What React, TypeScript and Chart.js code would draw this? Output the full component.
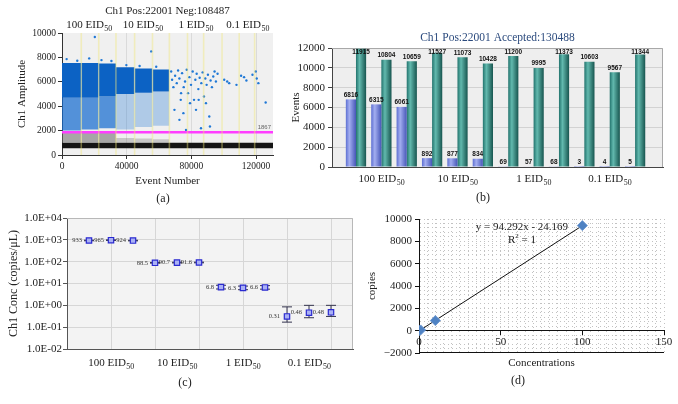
import React, { useEffect, useRef } from 'react';
import { Chart, registerables } from 'chart.js';

Chart.register(...registerables);

const SERIF = "'Liberation Serif', 'DejaVu Serif', serif";
const NARROW = "'Liberation Sans Narrow', 'Liberation Sans', Arial, sans-serif";
const SANS = "'Liberation Sans', Arial, sans-serif";

// ---------------- data ----------------
const doseLabels = ['100', '10', '1', '0.1'];
const doseUnit = 'EID';
const doseSub = '50';

// per-well droplet counts (panel b)
const acceptedPerWell = [11915, 10804, 10659, 11527, 11073, 10428, 11200, 9995, 11373, 10603, 9567, 11344];
const positivePerWell = [6816, 6315, 6061, 892, 877, 834, 69, 57, 68, 3, 4, 5];

// panel a: amplitude clusters per well (wells 1-6)
const eventTicks = [0, 40000, 80000, 120000];
const thresholdAmp = 1867;
const clusterTop = [7550, 7550, 7500, 7200, 7100, 7000];
const clusterCoreLow = [4700, 4700, 4800, 5000, 5100, 5200];
const clusterTailLow = [2000, 2100, 2200, 2100, 2300, 2400];
const rainTop = [1850, 1800, 1800, 1400, 1350, 1300];
const negBandTop = 1000;
const negBandLow = 550;

// panel a: sparse positive droplets (event number, amplitude)
const sparseEvents = [
  67500, 68100, 68900, 69950, 70980, 71800, 72600, 73430, 74260, 75280, 76100, 77130, 77960, 78770, 79790, 80820, 81640,
  82460, 83280, 84310, 85130, 86160, 86980, 87800, 88620, 89440, 90250, 91080, 91900, 92720, 93540, 94360, 95180, 96210,
  69540, 72620, 75080, 76720, 79180, 82870, 85950, 89030, 91490, 73640, 84520,
  100310, 102160, 103400, 107900, 110770, 112600, 114050, 117800, 119800, 120430, 121440, 125950,
  20300, 55180, 2870, 9440, 16820, 24410, 30570, 39800, 48000, 58260,
];
const sparseAmps = [
  6850, 6170, 5560, 6490, 5890, 6930, 6270, 4520, 6710, 5560, 6030, 6990, 5070, 6380, 5750, 6850, 4520,
  6170, 6660, 5400, 6330, 5890, 6770, 4800, 6270, 5750, 6580, 3150, 6110, 5560, 6440, 6850, 6030, 6660,
  3700, 2880, 3430, 2050, 4250, 3700, 2190, 4250, 2330, 5070, 4520,
  6170, 6030, 5890, 5750, 6490, 6380, 6110, 6580, 6850, 6270, 5890, 4300,
  9670, 8490, 7860, 7730, 7920, 7780, 7700, 7370, 7290, 7230,
];

// panel c: concentration per well (copies/uL) with error limits
const concValues = [933, 965, 924, 88.5, 90.7, 91.6, 6.8, 6.3, 6.6, 0.31, 0.46, 0.48];
const concLow = [905, 937, 897, 85.5, 87.6, 88.5, 5.6, 5.2, 5.5, 0.17, 0.27, 0.31];
const concHigh = [962, 994, 952, 91.6, 93.9, 94.8, 8.3, 7.6, 8.0, 0.85, 1.0, 1.0];
const concTicks = [0.01, 0.1, 1, 10, 100, 1000, 10000];

// panel d: standard curve
const stdConcentrations = [0.1, 1, 10, 100];
const stdCopies = [4.2, 65.7, 902.7, 9407];
const fitSlope = 94.292;
const fitIntercept = -24.169;
const fitR2 = 1;

// ---------------- helpers ----------------
function cumulative(arr: number[]) {
  const out: number[] = [];
  let s = 0;
  arr.forEach((v) => { s += v; out.push(s); });
  return out;
}
const wellEnds = cumulative(acceptedPerWell);
const wellStarts = wellEnds.map((e, i) => e - acceptedPerWell[i]);
const totalEvents = wellEnds[wellEnds.length - 1];
const totalPositive = positivePerWell.reduce((a, b) => a + b, 0);

function drawText(ctx: any, text: string, x: number, y: number, font: string, color: string, align = 'center', baseline = 'middle') {
  ctx.save();
  ctx.font = font;
  ctx.fillStyle = color;
  ctx.textAlign = align;
  ctx.textBaseline = baseline;
  ctx.fillText(text, x, y);
  ctx.restore();
}

function drawDose(ctx: any, x: number, y: number, dose: string, size: number, color: string) {
  const main = `${dose} ${doseUnit}`;
  const subSize = size * 0.72;
  ctx.save();
  ctx.fillStyle = color;
  ctx.textAlign = 'left';
  ctx.textBaseline = 'alphabetic';
  ctx.font = `${size}px ${SERIF}`;
  const w1 = ctx.measureText(main).width;
  ctx.font = `${subSize}px ${SERIF}`;
  const w2 = ctx.measureText(doseSub).width;
  const x0 = x - (w1 + w2) / 2;
  const base = y + size * 0.33;
  ctx.font = `${size}px ${SERIF}`;
  ctx.fillText(main, x0, base);
  ctx.font = `${subSize}px ${SERIF}`;
  ctx.fillText(doseSub, x0 + w1 + 0.5, base + size * 0.3);
  ctx.restore();
}

function fillArea(chart: any, color: string) {
  const { ctx, chartArea: a } = chart;
  ctx.save();
  ctx.fillStyle = color;
  ctx.fillRect(a.left, a.top, a.right - a.left, a.bottom - a.top);
  ctx.restore();
}

function strokeTopRight(chart: any, color: string) {
  const { ctx, chartArea: a } = chart;
  ctx.save();
  ctx.strokeStyle = color;
  ctx.lineWidth = 1;
  ctx.beginPath();
  ctx.moveTo(a.left, a.top + 0.5);
  ctx.lineTo(a.right - 0.5, a.top + 0.5);
  ctx.lineTo(a.right - 0.5, a.bottom);
  ctx.stroke();
  ctx.restore();
}

function baseOptions(padding: any) {
  return {
    animation: false,
    responsive: true,
    maintainAspectRatio: false,
    events: [],
    layout: { padding },
    plugins: { legend: { display: false }, tooltip: { enabled: false }, title: { display: false } },
  };
}

const groupCenter = (g: number) => g * 3 + 2;

// ---------------- panel A ----------------
function makeA(): any {
  const band = (x0: number, x1: number, lo: number, hi: number, color: string) => ({
    type: 'line',
    data: [{ x: x0, y: hi }, { x: x1, y: hi }],
    fill: { value: lo },
    backgroundColor: color,
    borderColor: 'rgba(0,0,0,0)',
    borderWidth: 0,
    pointRadius: 0,
    order: 20,
  });
  const datasets: any[] = [
    {
      type: 'line',
      data: [{ x: 0, y: thresholdAmp }, { x: totalEvents, y: thresholdAmp }],
      borderColor: '#ff3dff',
      borderWidth: 2.5,
      pointRadius: 0,
      fill: false,
      order: 1,
    },
    {
      type: 'scatter',
      data: sparseEvents.map((e, i) => ({ x: e, y: sparseAmps[i] })),
      pointRadius: 1.2,
      backgroundColor: '#1f78d6',
      borderWidth: 0,
      order: 2,
    },
  ];
  clusterTop.forEach((top, i) => {
    datasets.push(band(wellStarts[i], wellEnds[i], clusterCoreLow[i], top, '#0c62c4'));
    datasets.push(band(wellStarts[i], wellEnds[i], clusterTailLow[i], clusterCoreLow[i], i < 3 ? 'rgba(22,108,208,0.72)' : 'rgba(25,115,212,0.3)'));
    datasets.push(band(wellStarts[i], wellEnds[i], negBandTop, rainTop[i], i < 3 ? 'rgba(105,105,105,0.55)' : 'rgba(105,105,105,0.3)'));
  });
  datasets.push(band(0, totalEvents, negBandLow, negBandTop, '#151515'));

  const plugin = {
    id: 'panelA',
    beforeDraw(chart: any) { fillArea(chart, '#f0f0f0'); },
    afterDatasetsDraw(chart: any) {
      const { ctx, chartArea: a, scales } = chart;
      ctx.save();
      ctx.strokeStyle = 'rgba(240,232,120,0.42)';
      ctx.lineWidth = 1.6;
      wellEnds.slice(0, -1).forEach((e) => {
        const px = scales.x.getPixelForValue(e);
        ctx.beginPath();
        ctx.moveTo(px, a.top);
        ctx.lineTo(px, a.bottom);
        ctx.stroke();
      });
      ctx.restore();
      drawText(ctx, String(thresholdAmp), a.right - 2, scales.y.getPixelForValue(thresholdAmp) - 1.5, `6px ${SANS}`, '#666', 'right', 'bottom');
    },
    afterDraw(chart: any) {
      const { ctx, chartArea: a, scales } = chart;
      drawText(ctx, `Ch1 Pos:${totalPositive} Neg:${totalEvents - totalPositive}`, (a.left + a.right) / 2, 11, `11px ${SERIF}`, '#222');
      doseLabels.forEach((d, g) => {
        const c = (wellStarts[g * 3] + wellEnds[g * 3 + 2]) / 2;
        drawDose(ctx, scales.x.getPixelForValue(c), 24, d, 11, '#222');
      });
    },
  };

  return {
    type: 'scatter',
    data: { datasets },
    options: {
      ...baseOptions({ left: 0, top: 33, right: 17, bottom: 0 }),
      scales: {
        x: {
          type: 'linear', min: 0, max: totalEvents,
          afterBuildTicks: (s: any) => { s.ticks = eventTicks.map((v) => ({ value: v })); },
          border: { color: '#333' },
          grid: { color: '#dadada', tickColor: '#333', tickLength: 4 },
          ticks: { maxRotation: 0, autoSkip: false, font: { size: 9.5, family: SERIF }, color: '#222', padding: 2, callback: (v: any) => String(v) },
          title: { display: true, text: 'Event Number', font: { size: 11, family: SERIF }, color: '#222', padding: { top: 0, bottom: 4 } },
          afterFit: (s: any) => { s.height = 37; },
        },
        y: {
          type: 'linear', min: 0, max: 10000,
          border: { color: '#333' },
          grid: { drawOnChartArea: false, color: '#333', tickLength: 4 },
          ticks: { stepSize: 1000, font: { size: 9.5, family: SERIF }, color: '#222', padding: 2, callback: (v: any) => String(v) },
          title: { display: true, text: 'Ch1 Amplitude', font: { size: 11, family: SERIF }, color: '#222', padding: { top: 16, bottom: 0 } },
          afterFit: (s: any) => { s.width = 62; },
        },
      },
    },
    plugins: [plugin],
  };
}

// ---------------- panel B ----------------
function barGradient(stops: string[], dsIndex: number) {
  return (c: any) => {
    const chart = c.chart;
    const xs = chart.scales && chart.scales.x;
    if (c.type !== 'data' || !xs || !chart.chartArea) return stops[1];
    const slot = xs.getPixelForValue(2) - xs.getPixelForValue(1);
    const w = (slot * 0.8) / 2;
    const center = xs.getPixelForValue(c.dataIndex + 1);
    const left = center - w + dsIndex * w;
    const g = chart.ctx.createLinearGradient(left, 0, left + w, 0);
    g.addColorStop(0, stops[0]);
    g.addColorStop(0.35, stops[1]);
    g.addColorStop(1, stops[2]);
    return g;
  };
}

function makeB(): any {
  const plugin = {
    id: 'panelB',
    beforeDraw(chart: any) { fillArea(chart, '#eeeeee'); },
    beforeDatasetsDraw(chart: any) { strokeTopRight(chart, '#a8a8a8'); },
    afterDatasetsDraw(chart: any) {
      const { ctx, chartArea: a } = chart;
      ctx.save();
      ctx.font = `bold 6.5px ${NARROW}`;
      ctx.fillStyle = '#111';
      ctx.textAlign = 'center';
      ctx.textBaseline = 'alphabetic';
      chart.data.datasets.forEach((ds: any, di: number) => {
        chart.getDatasetMeta(di).data.forEach((el: any, i: number) => {
          const yy = Math.max(el.y - 2.5, a.top + 6);
          ctx.fillText(String(ds.data[i].y), el.x, yy);
        });
      });
      ctx.restore();
    },
    afterDraw(chart: any) {
      const { ctx, chartArea: a, scales } = chart;
      drawText(ctx, `Ch1 Pos:${totalPositive} Accepted:${totalEvents}`, (a.left + a.right) / 2, 13, `11.5px ${SERIF}`, '#2b4a7d');
      doseLabels.forEach((d, g) => {
        drawDose(ctx, scales.x.getPixelForValue(groupCenter(g)), a.bottom + 11, d, 11, '#222');
      });
    },
  };
  return {
    type: 'bar',
    data: {
      datasets: [
        {
          label: 'Positive',
          data: positivePerWell.map((v, i) => ({ x: i + 1, y: v })),
          backgroundColor: barGradient(['#5d6fd2', '#a3aef0', '#4656b8'], 0),
          categoryPercentage: 0.8,
          barPercentage: 1,
        },
        {
          label: 'Accepted',
          data: acceptedPerWell.map((v, i) => ({ x: i + 1, y: v })),
          backgroundColor: barGradient(['#22736d', '#62b9ae', '#17554f'], 1),
          categoryPercentage: 0.8,
          barPercentage: 1,
        },
      ],
    },
    options: {
      ...baseOptions({ left: 0, top: 23, right: 15, bottom: 0 }),
      scales: {
        x: {
          type: 'linear', min: 0.055, max: 13.1, offset: false,
          ticks: { display: false, stepSize: 1 },
          grid: { display: false },
          border: { color: '#444' },
          afterFit: (s: any) => { s.height = 23; },
        },
        y: {
          min: 0, max: 12000,
          ticks: { stepSize: 2000, font: { size: 11, family: SERIF }, color: '#222', padding: 3, callback: (v: any) => String(v) },
          grid: { color: '#d2d2d2', tickColor: '#444', tickLength: 4 },
          border: { color: '#444' },
          title: { display: true, text: 'Events', font: { size: 11, family: SERIF }, color: '#222', padding: { top: 0, bottom: 0 } },
          afterFit: (s: any) => { s.width = 42; },
        },
      },
    },
    plugins: [plugin],
  };
}

// ---------------- panel C ----------------
function sciLabel(v: number) {
  const e = Math.round(Math.log10(v));
  return `1.0E${e < 0 ? '-' : '+'}${String(Math.abs(e)).padStart(2, '0')}`;
}

function makeC(): any {
  const plugin = {
    id: 'panelC',
    beforeDraw(chart: any) { fillArea(chart, '#f3f3f3'); },
    beforeDatasetsDraw(chart: any) {
      strokeTopRight(chart, '#b8b8b8');
      const { ctx, scales } = chart;
      ctx.save();
      ctx.strokeStyle = '#34344e';
      ctx.lineWidth = 1;
      concValues.forEach((_, i) => {
        const px = scales.x.getPixelForValue(i + 1);
        const yl = scales.y.getPixelForValue(concLow[i]);
        const yh = scales.y.getPixelForValue(concHigh[i]);
        ctx.beginPath();
        ctx.moveTo(px, yl); ctx.lineTo(px, yh);
        ctx.moveTo(px - 5, yl); ctx.lineTo(px + 5, yl);
        ctx.moveTo(px - 5, yh); ctx.lineTo(px + 5, yh);
        ctx.stroke();
      });
      ctx.restore();
    },
    afterDatasetsDraw(chart: any) {
      const { ctx, scales } = chart;
      concValues.forEach((v, i) => {
        drawText(ctx, String(v), scales.x.getPixelForValue(i + 1) - 7, scales.y.getPixelForValue(v), `6.5px ${SERIF}`, '#333', 'right', 'middle');
      });
    },
    afterDraw(chart: any) {
      const { ctx, chartArea: a, scales } = chart;
      doseLabels.forEach((d, g) => {
        drawDose(ctx, scales.x.getPixelForValue(groupCenter(g)), a.bottom + 13, d, 11, '#222');
      });
    },
  };
  return {
    type: 'scatter',
    data: {
      datasets: [
        {
          data: concValues.map((v, i) => ({ x: i + 1, y: v })),
          pointStyle: 'rect',
          pointRadius: 3.8,
          backgroundColor: '#aab1f4',
          borderColor: '#2a2ad0',
          borderWidth: 1.2,
        },
      ],
    },
    options: {
      ...baseOptions({ left: 0, top: 13, right: 7, bottom: 0 }),
      scales: {
        x: {
          type: 'linear', min: 0, max: 13,
          ticks: { display: false, stepSize: 2, includeBounds: false },
          grid: { color: '#d6d6d6', drawTicks: false },
          border: { color: '#555' },
          afterFit: (s: any) => { s.height = 28; },
        },
        y: {
          type: 'logarithmic', min: 0.01, max: 10000,
          afterBuildTicks: (s: any) => { s.ticks = concTicks.map((v) => ({ value: v })); },
          ticks: { font: { size: 11, family: SERIF }, color: '#222', padding: 1, callback: (v: any) => sciLabel(v) },
          grid: { color: '#d6d6d6', tickColor: '#555', tickLength: 4 },
          border: { color: '#555' },
          title: { display: true, text: 'Ch1 Conc (copies/μL)', font: { size: 12, family: SERIF }, color: '#222', padding: { top: 7, bottom: 0 } },
          afterFit: (s: any) => { s.width = 67; },
        },
      },
    },
    plugins: [plugin],
  };
}

// ---------------- panel D ----------------
function makeD(): any {
  const plugin = {
    id: 'panelD',
    beforeDatasetsDraw(chart: any) {
      const { ctx, chartArea: a } = chart;
      ctx.save();
      ctx.strokeStyle = '#111';
      ctx.lineWidth = 1;
      ctx.beginPath();
      ctx.moveTo(a.left, a.bottom - 0.5);
      ctx.lineTo(a.right, a.bottom - 0.5);
      ctx.stroke();
      ctx.restore();
    },
    afterDraw(chart: any) {
      const { ctx, chartArea: a } = chart;
      const cx = a.left + (a.right - a.left) * 0.42;
      drawText(ctx, `y = ${fitSlope}x - ${Math.abs(fitIntercept)}`, cx, a.top + 8, `11px ${SERIF}`, '#222');
      ctx.save();
      ctx.font = `11px ${SERIF}`;
      const r = 'R';
      const rest = ` = ${fitR2}`;
      const wR = ctx.measureText(r).width;
      const wRest = ctx.measureText(rest).width;
      ctx.font = `7px ${SERIF}`;
      const w2 = ctx.measureText('2').width;
      const x0 = cx - (wR + w2 + wRest) / 2;
      const y0 = a.top + 21;
      ctx.fillStyle = '#222';
      ctx.textBaseline = 'middle';
      ctx.textAlign = 'left';
      ctx.font = `11px ${SERIF}`;
      ctx.fillText(r, x0, y0);
      ctx.font = `7px ${SERIF}`;
      ctx.fillText('2', x0 + wR, y0 - 4);
      ctx.font = `11px ${SERIF}`;
      ctx.fillText(rest, x0 + wR + w2, y0);
      ctx.restore();
      drawText(ctx, 'Concentrations', (a.left + a.right) / 2, a.bottom + 10, `11px ${SERIF}`, '#222');
    },
  };
  const none = 'rgba(0,0,0,0)';
  const dot = '#c2c2c2';
  return {
    type: 'scatter',
    data: {
      datasets: [
        {
          type: 'scatter',
          data: stdConcentrations.map((c, i) => ({ x: c, y: stdCopies[i] })),
          pointStyle: 'rectRot',
          pointRadius: 5,
          backgroundColor: '#4f82c3',
          borderColor: '#6a96d0',
          borderWidth: 1,
          order: 1,
        },
        {
          type: 'line',
          data: [
            { x: 0, y: fitIntercept },
            { x: stdConcentrations[stdConcentrations.length - 1], y: fitSlope * stdConcentrations[stdConcentrations.length - 1] + fitIntercept },
          ],
          borderColor: '#111',
          borderWidth: 1,
          pointRadius: 0,
          fill: false,
          order: 2,
        },
      ],
    },
    options: {
      ...baseOptions({ left: 0, top: 14, right: 14, bottom: 24 }),
      scales: {
        x: {
          type: 'linear', position: { y: 0 }, min: 0, max: 150,
          ticks: { stepSize: 5, autoSkip: false, maxRotation: 0, font: { size: 11, family: SERIF }, color: '#222', padding: 1, callback: (v: any) => (v % 50 === 0 ? String(v) : '') },
          grid: {
            color: (c: any) => (c.tick && c.tick.value === 0 ? none : dot),
            tickColor: (c: any) => (c.tick && c.tick.value % 50 === 0 ? '#111' : none),
            tickLength: 4,
          },
          border: { color: '#111', dash: [1, 3] },
        },
        y: {
          min: -2000, max: 10000,
          ticks: { stepSize: 400, autoSkip: false, font: { size: 11, family: SERIF }, color: '#222', padding: 3, callback: (v: any) => (v % 2000 === 0 ? (v < 0 ? '−' + Math.abs(v) : String(v)) : '') },
          grid: {
            color: (c: any) => (c.tick && (c.tick.value === 0 || c.tick.value === -2000) ? none : dot),
            tickColor: (c: any) => (c.tick && c.tick.value % 2000 === 0 ? '#111' : none),
            tickLength: 4,
          },
          border: { color: '#111', dash: [1, 3] },
          title: { display: true, text: 'copies', font: { size: 11, family: SERIF }, color: '#222', padding: { top: 6, bottom: 0 } },
          afterFit: (s: any) => { s.width = 59; },
        },
      },
    },
    plugins: [plugin],
  };
}

// ---------------- components ----------------
function ChartBox(props: { left: number; top: number; width: number; height: number; make: () => any }) {
  const ref = useRef<HTMLCanvasElement | null>(null);
  useEffect(() => {
    if (!ref.current) return;
    const chart = new Chart(ref.current, props.make());
    return () => { chart.destroy(); };
  }, []);
  return (
    <div style={{ position: 'absolute', left: props.left, top: props.top, width: props.width, height: props.height }}>
      <canvas ref={ref} />
    </div>
  );
}

function PanelTag({ x, y, text }: { x: number; y: number; text: string }) {
  return (
    <div style={{ position: 'absolute', left: x, top: y, transform: 'translate(-50%, -50%)', fontFamily: SERIF, fontSize: 12, color: '#222', whiteSpace: 'nowrap' }}>
      {text}
    </div>
  );
}

export default function App() {
  return (
    <div style={{ position: 'absolute', left: 0, top: 0, width: 678, height: 404, background: '#ffffff', overflow: 'hidden' }}>
      <ChartBox left={0} top={0} width={290} height={192} make={makeA} />
      <ChartBox left={290} top={25} width={388} height={165} make={makeB} />
      <ChartBox left={0} top={205} width={360} height={172} make={makeC} />
      <ChartBox left={360} top={205} width={318} height={172} make={makeD} />
      <PanelTag x={163} y={198} text="(a)" />
      <PanelTag x={483} y={197} text="(b)" />
      <PanelTag x={185} y={382} text="(c)" />
      <PanelTag x={518} y={380} text="(d)" />
    </div>
  );
}
